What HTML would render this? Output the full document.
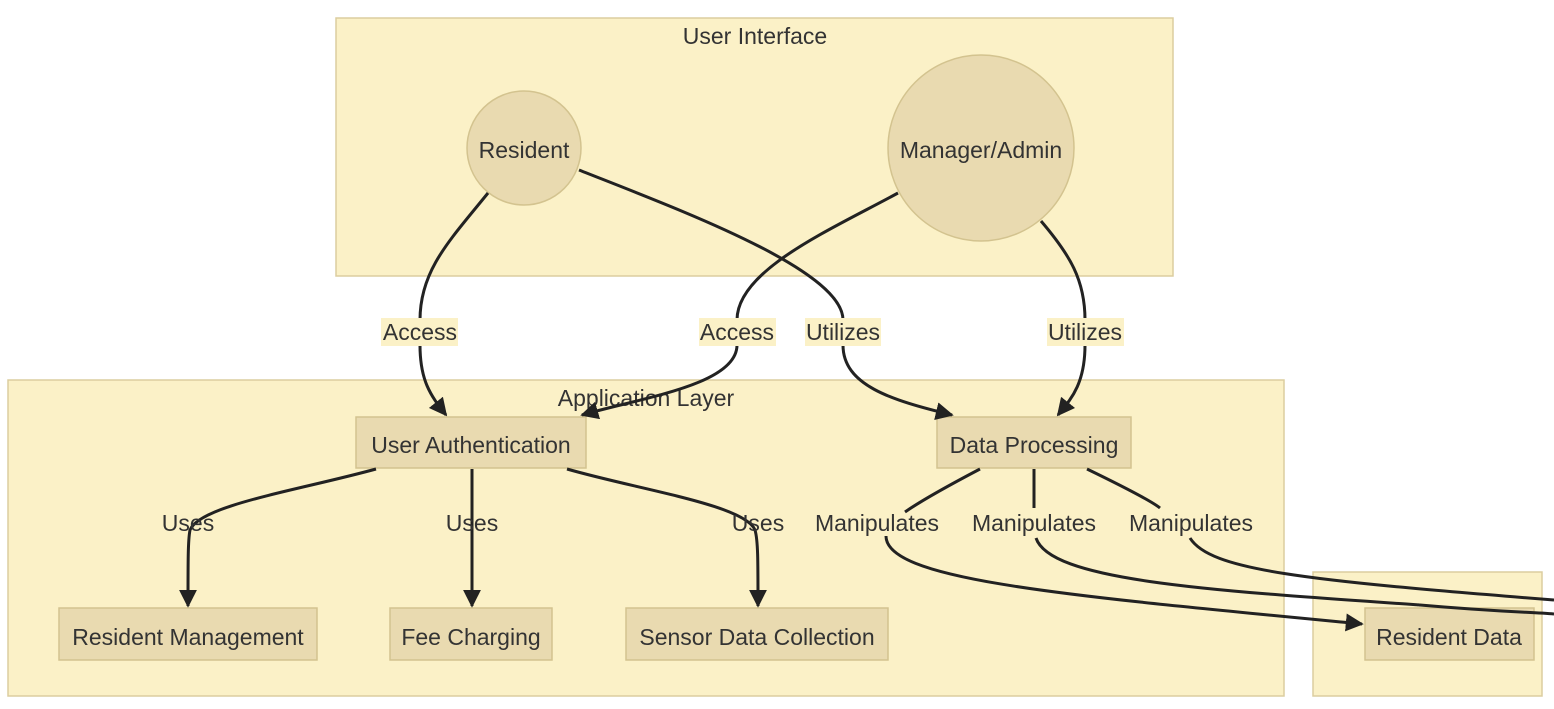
<!DOCTYPE html>
<html><head><meta charset="utf-8"><style>
html,body{margin:0;padding:0;background:#fff;}
svg{display:block;}
text{font-family:"Liberation Sans",sans-serif;font-size:23px;fill:#333;}
</style></head><body>
<svg width="1554" height="709" viewBox="0 0 1554 709" xmlns="http://www.w3.org/2000/svg">
<defs><marker id="b" viewBox="0 0 10 10" refX="9" refY="5" markerWidth="18" markerHeight="18" markerUnits="userSpaceOnUse" orient="auto"><path d="M0,0L10,5L0,10z" fill="#222"/></marker></defs>
<g fill="#fbf1c7" stroke="#dccd9f" stroke-width="1.5">
<rect x="336" y="18" width="837" height="258"/>
<rect x="8" y="380" width="1276" height="316"/>
<rect x="1313" y="572" width="229" height="124"/>
</g>
<text x="755" y="44" text-anchor="middle">User Interface</text>
<text x="646" y="406" text-anchor="middle">Application Layer</text>
<g fill="#e9dab0" stroke="#d3c38f" stroke-width="1.5">
<circle cx="524" cy="148" r="57"/>
<circle cx="981" cy="148" r="93"/>
<rect x="356" y="417" width="230" height="51"/>
<rect x="937" y="417" width="194" height="51"/>
<rect x="59" y="608" width="258" height="52"/>
<rect x="390" y="608" width="162" height="52"/>
<rect x="626" y="608" width="262" height="52"/>
<rect x="1365" y="608" width="169" height="52"/>
</g>
<g fill="none" stroke="#222" stroke-width="3">
<path marker-end="url(#b)" d="M488,193 C450,240 420,270 420,320 L420,345 C420,380 430,395 446,415"/>
<path marker-end="url(#b)" d="M898,193 C830,230 737,270 737,320 L737,345 C737,385 640,398 582,415"/>
<path marker-end="url(#b)" d="M579,170 C680,210 843,270 843,320 L843,345 C843,385 890,400 952,415"/>
<path marker-end="url(#b)" d="M1041,221 C1070,255 1085,280 1085,320 L1085,345 C1085,385 1070,400 1058,415"/>
<path marker-end="url(#b)" d="M376,469 C300,490 200,505 190,530 C188,540 188,560 188,606"/>
<path marker-end="url(#b)" d="M472,469 L472,606"/>
<path marker-end="url(#b)" d="M567,469 C640,490 745,505 755,530 C758,540 758,560 758,606"/>
<path d="M980,469 C940,490 915,505 905,512"/>
<path marker-end="url(#b)" d="M886,536 C886,580 1060,595 1362,624"/>
<path d="M1034,469 L1034,508"/>
<path d="M1036,538 C1050,580 1200,590 1420,605 C1500,612 1530,612 1554,614"/>
<path d="M1087,469 C1120,485 1150,500 1160,508"/>
<path d="M1190,538 C1210,570 1300,580 1554,600"/>
</g>
<g fill="#fbf1c7">
<rect x="381" y="318" width="77" height="28"/>
<rect x="699" y="318" width="77" height="28"/>
<rect x="805" y="318" width="76" height="28"/>
<rect x="1047" y="318" width="77" height="28"/>
</g>
<g text-anchor="middle">
<text x="420" y="340">Access</text>
<text x="737" y="340">Access</text>
<text x="843" y="340">Utilizes</text>
<text x="1085" y="340">Utilizes</text>
<text x="188" y="531">Uses</text>
<text x="472" y="531">Uses</text>
<text x="758" y="531">Uses</text>
<text x="877" y="531">Manipulates</text>
<text x="1034" y="531">Manipulates</text>
<text x="1191" y="531">Manipulates</text>
<text x="524" y="158">Resident</text>
<text x="981" y="158">Manager/Admin</text>
<text x="471" y="453">User Authentication</text>
<text x="1034" y="453">Data Processing</text>
<text x="188" y="645">Resident Management</text>
<text x="471" y="645">Fee Charging</text>
<text x="757" y="645">Sensor Data Collection</text>
<text x="1449" y="645">Resident Data</text>
</g>
</svg>
</body></html>
